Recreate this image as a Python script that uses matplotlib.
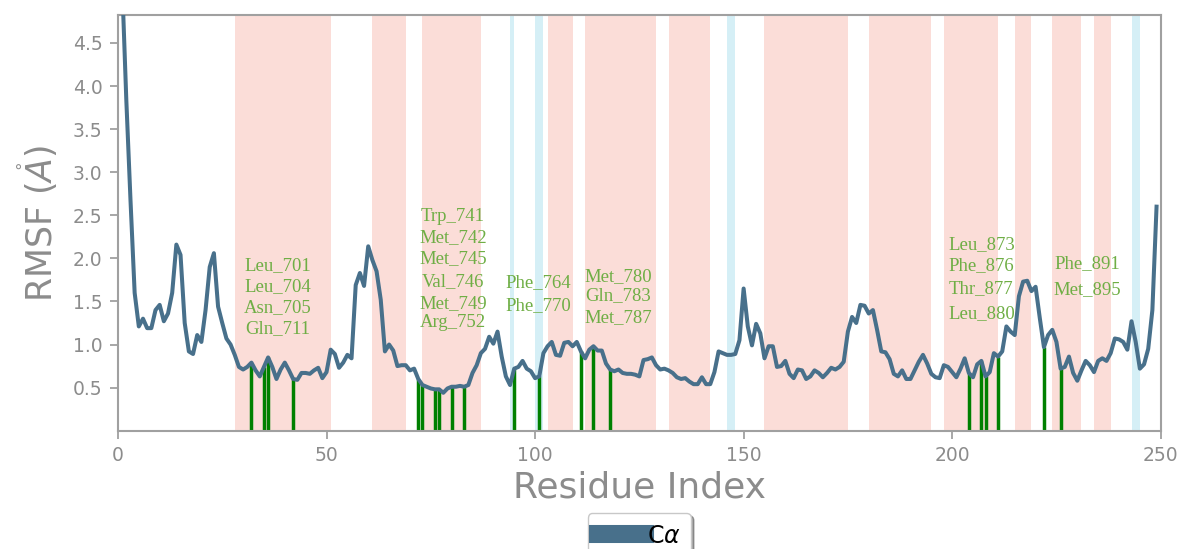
import matplotlib
matplotlib.use("Agg")
import matplotlib.pyplot as plt
import numpy as np

# RMSF per residue index (1..249)
rmsf = [
    5.20, 3.84, 2.68, 1.60, 1.21, 1.30, 1.19, 1.19, 1.40, 1.46,
    1.27, 1.36, 1.60, 2.16, 2.04, 1.25, 0.92, 0.89, 1.11, 1.03,
    1.40, 1.90, 2.06, 1.44, 1.25, 1.07, 1.00, 0.88, 0.74, 0.71,
    0.74, 0.79, 0.70, 0.63, 0.74, 0.85, 0.74, 0.60, 0.71, 0.79,
    0.70, 0.60, 0.59, 0.67, 0.67, 0.66, 0.70, 0.73, 0.61, 0.68,
    0.94, 0.89, 0.73, 0.79, 0.88, 0.84, 1.69, 1.83, 1.68, 2.14,
    1.98, 1.85, 1.52, 0.92, 1.00, 0.93, 0.75, 0.76, 0.76, 0.70,
    0.72, 0.60, 0.53, 0.51, 0.49, 0.48, 0.48, 0.44, 0.49, 0.51,
    0.51, 0.52, 0.51, 0.53, 0.67, 0.76, 0.90, 0.95, 1.09, 1.01,
    1.15, 0.86, 0.63, 0.53, 0.72, 0.74, 0.81, 0.72, 0.69, 0.61,
    0.63, 0.90, 0.98, 1.03, 0.88, 0.87, 1.02, 1.03, 0.98, 1.03,
    0.92, 0.84, 0.94, 0.98, 0.93, 0.93, 0.78, 0.71, 0.69, 0.71,
    0.67, 0.66, 0.66, 0.65, 0.63, 0.82, 0.83, 0.85, 0.76, 0.71,
    0.72, 0.70, 0.67, 0.62, 0.60, 0.61, 0.57, 0.54, 0.54, 0.62,
    0.54, 0.54, 0.68, 0.92, 0.90, 0.88, 0.88, 0.89, 1.05, 1.65,
    1.21, 0.99, 1.24, 1.13, 0.84, 0.98, 0.98, 0.74, 0.75, 0.81,
    0.66, 0.61, 0.71, 0.70, 0.60, 0.63, 0.70, 0.67, 0.62, 0.67,
    0.73, 0.71, 0.74, 0.80, 1.15, 1.32, 1.25, 1.46, 1.45, 1.36,
    1.40, 1.17, 0.92, 0.91, 0.83, 0.66, 0.63, 0.70, 0.60, 0.60,
    0.70, 0.80, 0.88, 0.78, 0.66, 0.62, 0.61, 0.76, 0.74, 0.68,
    0.62, 0.72, 0.84, 0.67, 0.62, 0.77, 0.81, 0.63, 0.68, 0.90,
    0.86, 0.92, 1.21, 1.15, 1.11, 1.56, 1.73, 1.74, 1.62, 1.67,
    1.31, 0.97, 1.11, 1.17, 1.03, 0.72, 0.74, 0.86, 0.67, 0.58,
    0.70, 0.81, 0.76, 0.68, 0.81, 0.84, 0.81, 0.90, 1.07, 1.06,
    1.03, 0.94, 1.27, 1.03, 0.72, 0.77, 0.95, 1.40, 2.60,
]
residue_index = np.arange(1, len(rmsf) + 1)

# secondary structure spans (residue index)
helix_spans = [(28, 51), (61, 69), (73, 87), (103, 109), (112, 129), (132, 142),
               (155, 175), (180, 195), (198, 211), (215, 219), (224, 231), (234, 238)]
strand_spans = [(94, 95), (100, 102), (146, 148), (243, 245)]

# ligand contacts, grouped as they are labelled
contact_groups = [
    ["Leu_701", "Leu_704", "Asn_705", "Gln_711"],
    ["Trp_741", "Met_742", "Met_745", "Val_746", "Met_749", "Arg_752"],
    ["Phe_764", "Phe_770"],
    ["Met_780", "Gln_783", "Met_787"],
    ["Leu_873", "Phe_876", "Thr_877", "Leu_880"],
    ["Phe_891", "Met_895"],
]
first_residue = 670  # residue number of index 1

# label placement (x in residue index, y in RMSF units)
group_x = [38.4, 80.3, 100.8, 120.0, 207.0, 232.4]
group_y = [
    [1.91, 1.67, 1.43, 1.19],
    [2.49, 2.245, 2.0, 1.73, 1.48, 1.25],
    [1.72, 1.45],
    [1.79, 1.565, 1.317],
    [2.165, 1.91, 1.645, 1.363],
    [1.944, 1.64],
]

line_color = "#48708b"
gray = "#8c8c8c"

fig = plt.figure(figsize=(11.82, 5.49), dpi=100)
ax = fig.add_axes([0.0998, 0.2155, 0.8822, 0.7565])

for a, b in helix_spans:
    ax.axvspan(a, b, color="#fbddd8", lw=0, zorder=0)
for a, b in strand_spans:
    ax.axvspan(a, b, color="#d5eff6", lw=0, zorder=0)

line, = ax.plot(residue_index, rmsf, color=line_color, lw=2.9, label=r"C$\alpha$", zorder=3)

for names in contact_groups:
    idx = [int(n.split("_")[1]) - first_residue + 1 for n in names]
    ax.vlines(idx, 0, [rmsf[i - 1] for i in idx], color="green", lw=2.5, zorder=2)

for names, gx, ys in zip(contact_groups, group_x, group_y):
    for n, y in zip(names, ys):
        ax.text(gx, y, n, ha="center", va="center", color="#6fae45",
                fontsize=13.5, family="Liberation Serif", zorder=4)

ax.set_xlim(0, 250)
ax.set_ylim(0, 4.82)
ax.set_xticks([0, 50, 100, 150, 200, 250])
ax.set_yticks([0.5, 1.0, 1.5, 2.0, 2.5, 3.0, 3.5, 4.0, 4.5])
for s in ax.spines.values():
    s.set_color("#a0a0a0")
    s.set_linewidth(1.5)
ax.tick_params(direction="out", length=6, width=1.3, color="#a0a0a0",
               labelcolor=gray, labelsize=13.5, pad=5)

ax.set_xlabel("Residue Index", fontsize=26, color=gray, labelpad=4)
ax.set_ylabel(r"RMSF ($\mathring{A}$)", fontsize=25, color=gray, labelpad=9)

leg = ax.legend(loc="upper center", bbox_to_anchor=(0.5, -0.17), fontsize=17,
                frameon=True, fancybox=True, shadow=True, handlelength=2.0,
                handletextpad=0.05, borderpad=0.45)
leg.legend_handles[0].set_linewidth(13)
leg.get_frame().set_edgecolor("#c8c8c8")

fig.savefig("out.png", dpi=100)
